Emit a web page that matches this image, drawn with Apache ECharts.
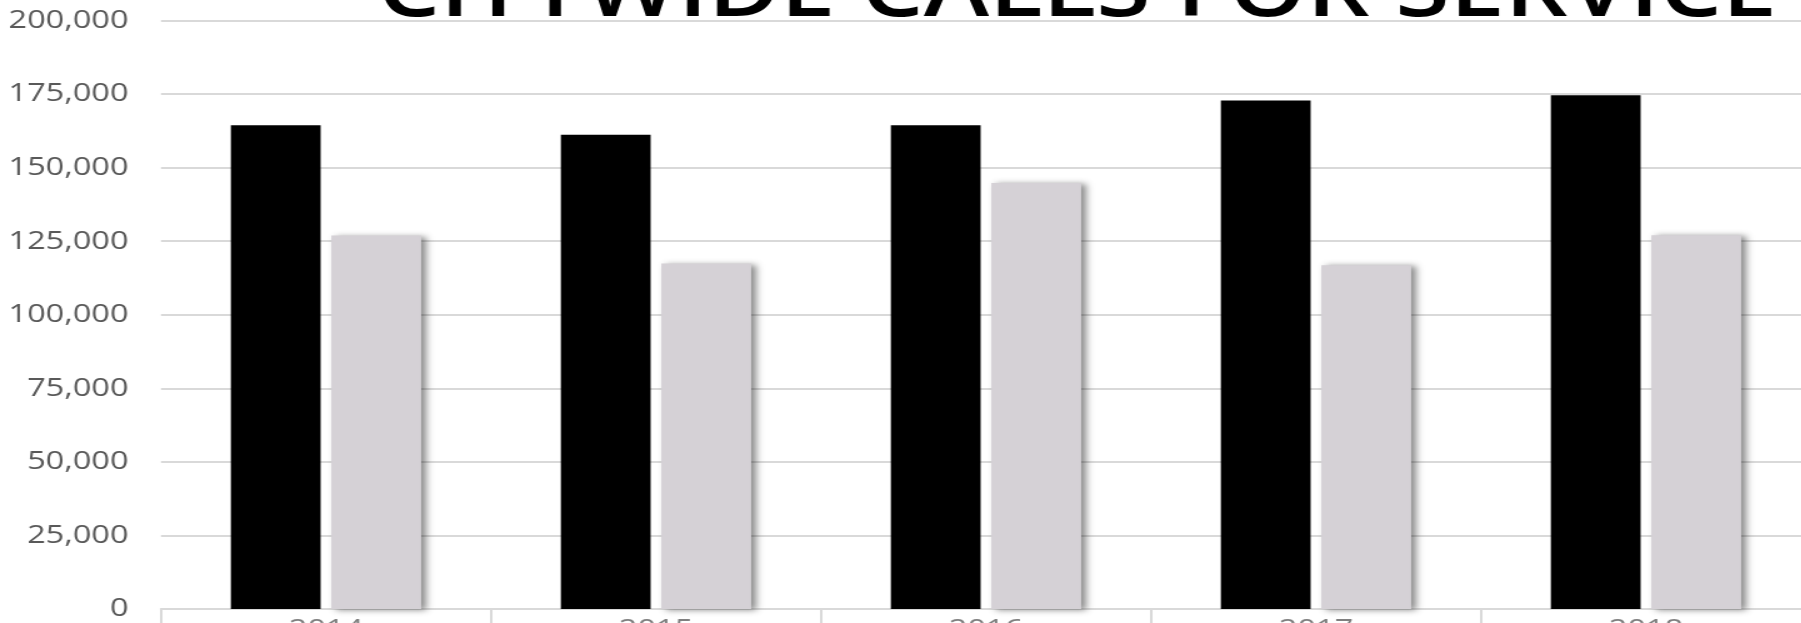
<!DOCTYPE html>
<html>
<head>
<meta charset="utf-8">
<script src="https://cdn.jsdelivr.net/npm/echarts@6/dist/echarts.min.js"></script>
<style>
  html, body { margin: 0; padding: 0; background: #ffffff; overflow: hidden; }
  /* the chart is laid out narrower and stretched horizontally to the window */
  #chart { width: 1441px; height: 623px; transform: scaleX(1.25); transform-origin: 0 0; }
</style>
</head>
<body>
<div id="chart"></div>
<script>
const categories = ['2014', '2015', '2016', '2017', '2018'];
const callsTotal = [164400, 161200, 164400, 172800, 174600];
const callsSecond = [126900, 117400, 144800, 116800, 127000];
const yTicks = { min: 0, max: 200000, interval: 25000 };
const titleText = 'CITYWIDE CALLS FOR SERVICE';

const FONT = '"Open Sans", "Liberation Sans", sans-serif';
const chart = echarts.init(document.getElementById('chart'), null, { renderer: 'canvas' });

chart.setOption({
  animation: false,
  backgroundColor: '#ffffff',
  title: {
    text: titleText,
    left: 302,
    top: -47,
    padding: 0,
    textStyle: { fontFamily: FONT, fontSize: 79, fontWeight: 600, color: '#000000', lineHeight: 80 }
  },
  grid: { left: 128.8, top: 20.5, width: 1320, bottom: 14, containLabel: false, outerBoundsMode: 'none' },
  xAxis: {
    type: 'category',
    data: categories,
    axisLine: { show: true, lineStyle: { color: '#d9d9d9', width: 2 } },
    axisTick: { show: true, alignWithLabel: false, length: 16, lineStyle: { color: '#d9d9d9', width: 2 } },
    axisLabel: { margin: 8, fontFamily: FONT, fontSize: 26, color: '#7f7f7f' },
    splitLine: { show: false }
  },
  yAxis: {
    type: 'value',
    min: yTicks.min,
    max: yTicks.max,
    interval: yTicks.interval,
    axisLine: { show: false },
    axisTick: { show: false },
    axisLabel: {
      margin: 26,
      fontFamily: FONT,
      fontSize: 26,
      color: '#595959',
      formatter: v => v.toLocaleString('en-US')
    },
    splitLine: { show: true, lineStyle: { color: '#d9d9d9', width: 2 } }
  },
  series: [
    {
      name: 'Series 1',
      type: 'bar',
      data: callsTotal,
      barWidth: '27.2%',
      barGap: '12%',
      itemStyle: { color: '#000000' }
    },
    {
      name: 'Series 2',
      type: 'bar',
      data: callsSecond,
      barWidth: '27.2%',
      itemStyle: {
        color: '#d5d1d6',
        shadowColor: 'rgba(0,0,0,0.45)',
        shadowBlur: 6,
        shadowOffsetX: 4,
        shadowOffsetY: 1
      }
    }
  ]
});
</script>
</body>
</html>
